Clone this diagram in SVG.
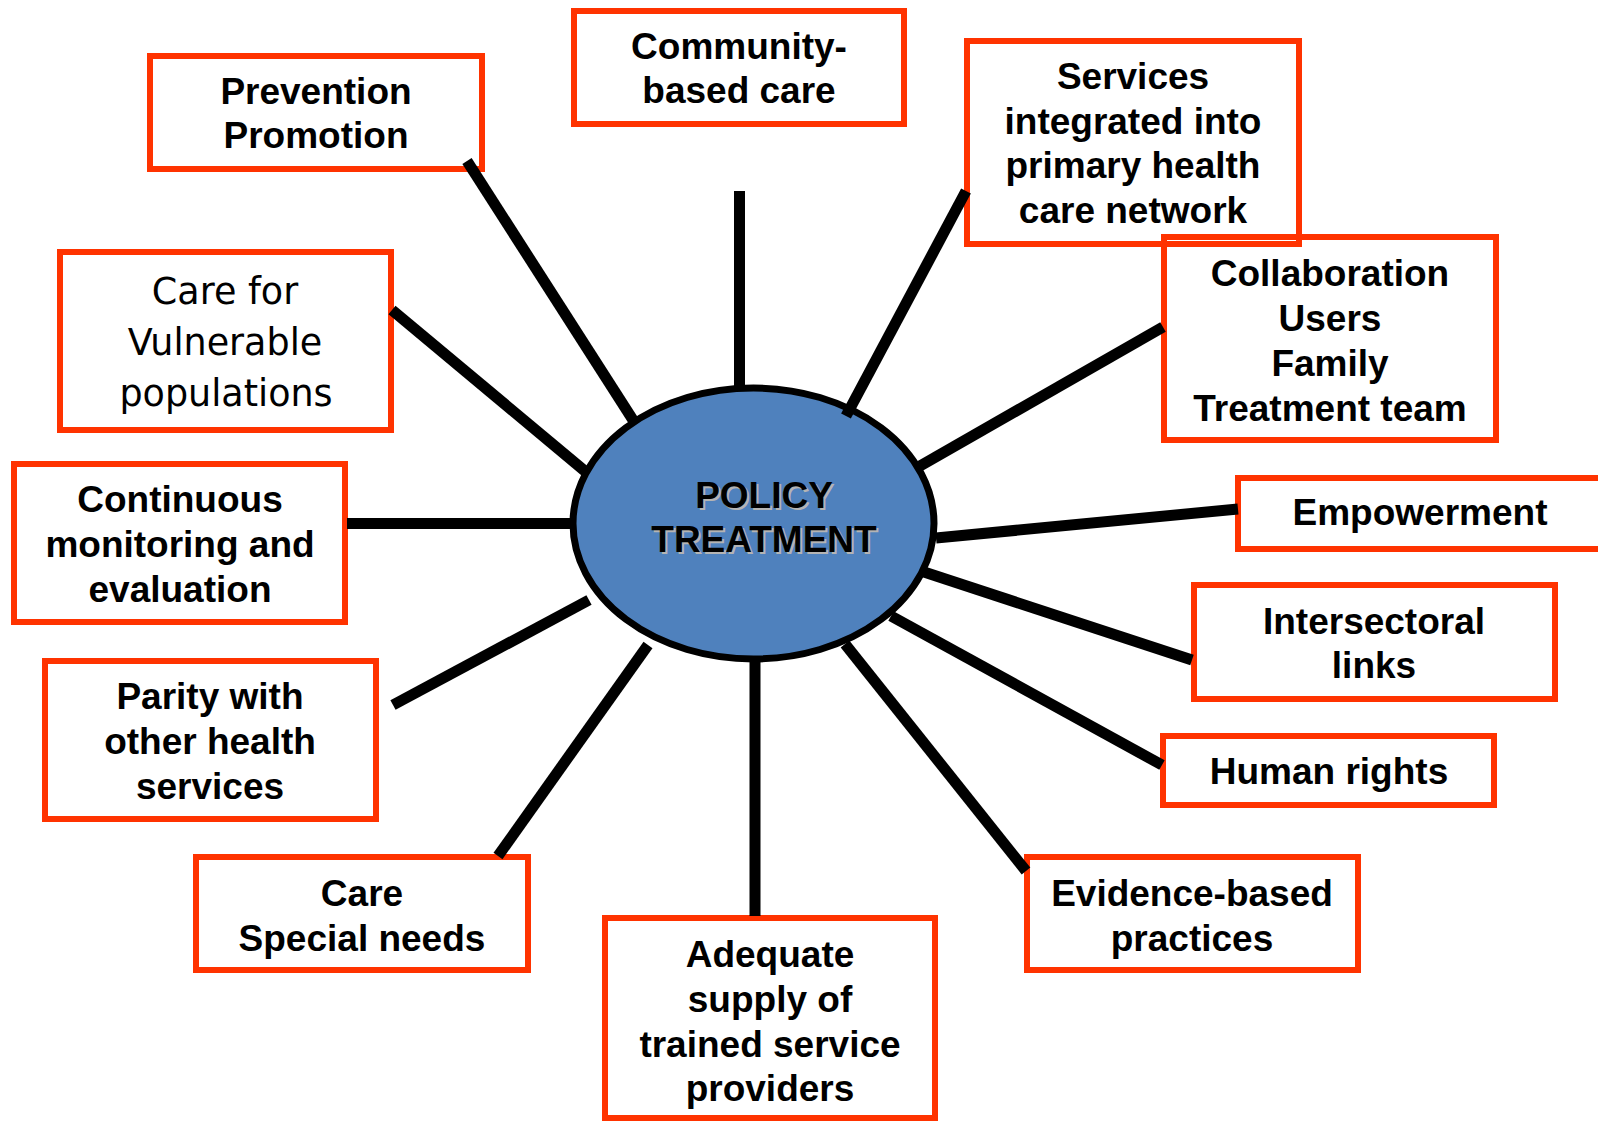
<svg xmlns="http://www.w3.org/2000/svg" width="1598" height="1122" viewBox="0 0 1598 1122">
<style>
.box{fill:none;stroke:#FF3300;stroke-width:6}
.t{font-family:"Liberation Sans",Arial,sans-serif;font-weight:bold;font-size:37px;fill:#000;text-anchor:middle}
.tr{font-family:"DejaVu Sans",Verdana,sans-serif;font-weight:normal;font-size:36.5px;fill:#000;text-anchor:middle}
.c{stroke:#000;stroke-width:11;fill:none;stroke-linecap:butt}
.ct{font-family:"Liberation Sans",Arial,sans-serif;font-weight:bold;font-size:37px;text-anchor:middle}
</style>
<rect width="1598" height="1122" fill="#fff"/>
<g id="center">
<ellipse cx="753.5" cy="523.5" rx="180.5" ry="135.5" fill="#4F81BD" stroke="#000" stroke-width="7"/>
<text class="ct" x="766" y="510" fill="#B4B4B4">POLICY</text>
<text class="ct" x="766" y="554" fill="#B4B4B4">TREATMENT</text>
<text class="ct" x="764" y="508" fill="#000">POLICY</text>
<text class="ct" x="764" y="552" fill="#000">TREATMENT</text>
</g>
<g id="prevention">
<rect class="box" x="150" y="56" width="332" height="113"/>
<text class="t" x="316" y="104">Prevention</text>
<text class="t" x="316" y="148">Promotion</text>
</g>
<g id="community">
<rect class="box" x="574" y="11" width="330" height="113"/>
<text class="t" x="739" y="59">Community-</text>
<text class="t" x="739" y="103">based care</text>
</g>
<g id="services">
<rect class="box" x="967" y="41" width="332" height="203"/>
<text class="t" x="1133" y="89">Services</text>
<text class="t" x="1133" y="134">integrated into</text>
<text class="t" x="1133" y="178">primary health</text>
<text class="t" x="1133" y="223">care network</text>
</g>
<g id="collaboration">
<rect class="box" x="1164" y="237" width="332" height="203"/>
<text class="t" x="1330" y="286">Collaboration</text>
<text class="t" x="1330" y="331">Users</text>
<text class="t" x="1330" y="376">Family</text>
<text class="t" x="1330" y="421">Treatment team</text>
</g>
<g id="vulnerable">
<rect class="box" x="60" y="252" width="331" height="178"/>
<text class="tr" x="225" y="304">Care for</text>
<text class="tr" x="225" y="355">Vulnerable</text>
<text class="tr" x="226" y="406">populations</text>
</g>
<g id="continuous">
<rect class="box" x="14" y="464" width="331" height="158"/>
<text class="t" x="180" y="512">Continuous</text>
<text class="t" x="180" y="557">monitoring and</text>
<text class="t" x="180" y="602">evaluation</text>
</g>
<g id="parity">
<rect class="box" x="45" y="661" width="331" height="158"/>
<text class="t" x="210" y="709">Parity with</text>
<text class="t" x="210" y="754">other health</text>
<text class="t" x="210" y="799">services</text>
</g>
<g id="special">
<rect class="box" x="196" y="857" width="332" height="113"/>
<text class="t" x="362" y="906">Care</text>
<text class="t" x="362" y="951">Special needs</text>
</g>
<g id="adequate">
<rect class="box" x="605" y="918" width="330" height="200"/>
<text class="t" x="770" y="967">Adequate</text>
<text class="t" x="770" y="1012">supply of</text>
<text class="t" x="770" y="1057">trained service</text>
<text class="t" x="770" y="1101">providers</text>
</g>
<g id="empowerment">
<rect class="box" x="1238" y="478" width="364" height="71"/>
<text class="t" x="1420" y="525">Empowerment</text>
</g>
<g id="intersectoral">
<rect class="box" x="1194" y="585" width="361" height="114"/>
<text class="t" x="1374" y="634">Intersectoral</text>
<text class="t" x="1374" y="678">links</text>
</g>
<g id="humanrights">
<rect class="box" x="1163" y="736" width="331" height="69"/>
<text class="t" x="1329" y="784">Human rights</text>
</g>
<g id="evidence">
<rect class="box" x="1027" y="857" width="331" height="113"/>
<text class="t" x="1192" y="906">Evidence-based</text>
<text class="t" x="1192" y="951">practices</text>
</g>
<g id="connectors">
<line class="c" x1="467" y1="161" x2="633" y2="420"/>
<line class="c" x1="739.5" y1="191" x2="739.5" y2="386"/>
<line class="c" x1="392" y1="310" x2="586" y2="472"/>
<line class="c" x1="347" y1="523.5" x2="571" y2="523.5"/>
<line class="c" x1="393" y1="705" x2="589" y2="600"/>
<line class="c" x1="498" y1="856" x2="648" y2="645"/>
<line class="c" x1="755" y1="660" x2="755" y2="916"/>
<line class="c" x1="845" y1="644" x2="1026" y2="871"/>
<line class="c" x1="891" y1="616" x2="1162" y2="765"/>
<line class="c" x1="924" y1="572" x2="1192" y2="660"/>
<line class="c" x1="936" y1="538" x2="1238" y2="509"/>
<line class="c" x1="920" y1="466" x2="1163" y2="327"/>
<line class="c" x1="966" y1="191" x2="846" y2="416"/>
</g>
</svg>
